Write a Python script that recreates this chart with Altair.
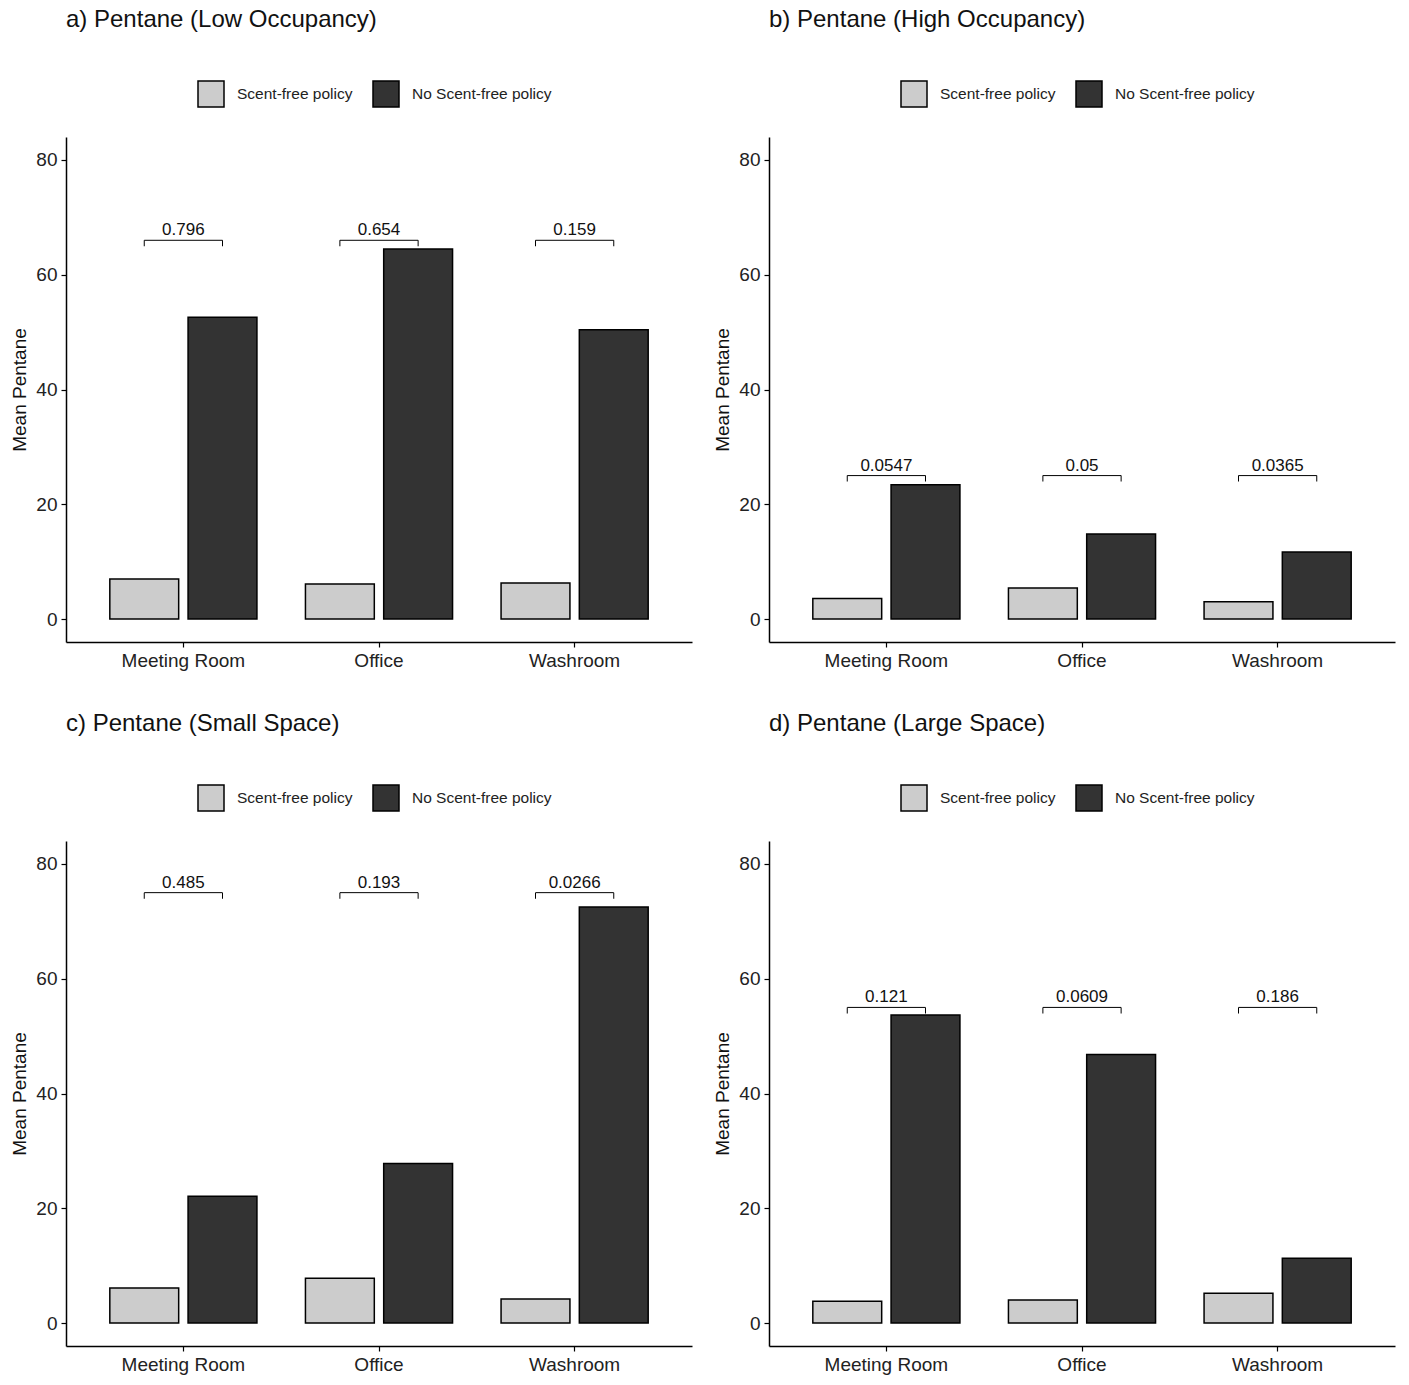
import altair as alt
import pandas as pd

FONT = "Liberation Sans"

LOCATIONS = ["Meeting Room", "Office", "Washroom"]
POLICIES = ["Scent-free policy", "No Scent-free policy"]
POLICY_COLORS = ["#cccccc", "#333333"]

PANEL_TITLES = [
    "a) Pentane (Low Occupancy)",
    "b) Pentane (High Occupancy)",
    "c) Pentane (Small Space)",
    "d) Pentane (Large Space)",
]

# Mean pentane per location, one list per panel
scent_free = [
    [7.0, 6.1, 6.3],
    [3.6, 5.4, 3.0],
    [6.1, 7.8, 4.2],
    [3.8, 4.0, 5.2],
]
no_scent_free = [
    [52.6, 64.5, 50.4],
    [23.4, 14.8, 11.7],
    [22.1, 27.8, 72.5],
    [53.7, 46.8, 11.3],
]

# p-values of each pairwise comparison and the height of their brackets
p_values = [
    ["0.796", "0.654", "0.159"],
    ["0.0547", "0.05", "0.0365"],
    ["0.485", "0.193", "0.0266"],
    ["0.121", "0.0609", "0.186"],
]
bracket_level = [66, 25, 75, 55]

Y_TICKS = [0, 20, 40, 60, 80]
Y_DOMAIN = [-4, 84]


def panel(i):
    bars = pd.DataFrame({
        "location": LOCATIONS * 2,
        "policy": [POLICIES[0]] * 3 + [POLICIES[1]] * 3,
        "mean": scent_free[i] + no_scent_free[i],
    })
    sig = pd.DataFrame({
        "location": LOCATIONS,
        "p": p_values[i],
        "level": [bracket_level[i]] * 3,
    })

    x_scale = alt.Scale(domain=LOCATIONS, paddingInner=0.2, paddingOuter=0.2)
    y_scale = alt.Scale(domain=Y_DOMAIN, nice=False, zero=False)
    x_axis = alt.Axis(title=None, labelAngle=0)
    y_axis = alt.Axis(title="Mean Pentane", values=Y_TICKS)

    def xenc(band=0.5):
        return alt.X("location:N", scale=x_scale, sort=LOCATIONS, axis=x_axis,
                     bandPosition=band)

    bar = alt.Chart(bars).mark_bar(stroke="black", strokeWidth=1.5).encode(
        x=alt.X("location:N", scale=x_scale, sort=LOCATIONS, axis=x_axis),
        xOffset=alt.XOffset("policy:N", sort=POLICIES,
                            scale=alt.Scale(domain=POLICIES, paddingInner=0.12, paddingOuter=0.06)),
        y=alt.Y("mean:Q", scale=y_scale, axis=y_axis),
        y2=alt.datum(0),
        color=alt.Color(
            "policy:N",
            scale=alt.Scale(domain=POLICIES, range=POLICY_COLORS),
            legend=alt.Legend(
                title=None, orient="none", legendX=131, legendY=-57,
                direction="horizontal", symbolType="square", symbolSize=676,
                symbolStrokeColor="black", symbolStrokeWidth=1.5,
                symbolOpacity=1, labelFontSize=15.5, labelFont=FONT,
                labelColor="#222222", labelOffset=12, columnPadding=17,
            ),
        ),
    )

    by = alt.Y("level:Q", scale=y_scale, axis=y_axis, title="Mean Pentane")

    # significance brackets: a line between the two bar centres with short end ticks
    bracket = alt.Chart(sig).mark_rule(color="black", strokeWidth=1).encode(
        x=xenc(0.25),
        x2=alt.X2("location", bandPosition=0.75),
        y=by,
    )
    tick_left = alt.Chart(sig).mark_tick(
        orient="vertical", size=6, thickness=1, yOffset=3, color="black", opacity=1
    ).encode(x=xenc(0.25), y=by)
    tick_right = alt.Chart(sig).mark_tick(
        orient="vertical", size=6, thickness=1, yOffset=3, color="black", opacity=1
    ).encode(x=xenc(0.75), y=by)
    label = alt.Chart(sig).mark_text(
        font=FONT, fontSize=17, baseline="bottom", dy=-1, color="#111111"
    ).encode(
        x=alt.X("location:N", scale=x_scale, sort=LOCATIONS, axis=x_axis),
        y=by,
        text="p:N",
    )

    return alt.layer(bar, bracket, tick_left, tick_right, label).properties(
        width=626,
        height=505,
        title=alt.TitleParams(
            text=PANEL_TITLES[i], anchor="start", frame="group", font=FONT,
            fontSize=24, fontWeight="normal", color="#111111", offset=48,
        ),
    )


def row(a, b):
    return alt.hconcat(panel(a), panel(b), spacing=21).resolve_scale(
        x="independent", y="independent", color="independent", xOffset="independent"
    ).resolve_legend(color="independent")


chart = alt.vconcat(row(0, 1), row(2, 3), spacing=42).resolve_scale(
    x="independent", y="independent", color="independent", xOffset="independent"
).resolve_legend(color="independent").properties(
    padding={"left": 10, "top": 8, "right": 5, "bottom": 5},
    background="white",
).configure_view(stroke=None).configure_axis(
    grid=False,
    domainColor="black",
    domainWidth=1.5,
    tickColor="black",
    tickWidth=1.2,
    tickSize=5,
    labelFont=FONT,
    labelFontSize=19,
    labelColor="#222222",
    labelPadding=4,
    titleFont=FONT,
    titleFontSize=19,
    titleFontWeight="normal",
    titleColor="#111111",
    titlePadding=6,
)

chart.save("out.html", embed_options={"renderer": "svg", "actions": False})
